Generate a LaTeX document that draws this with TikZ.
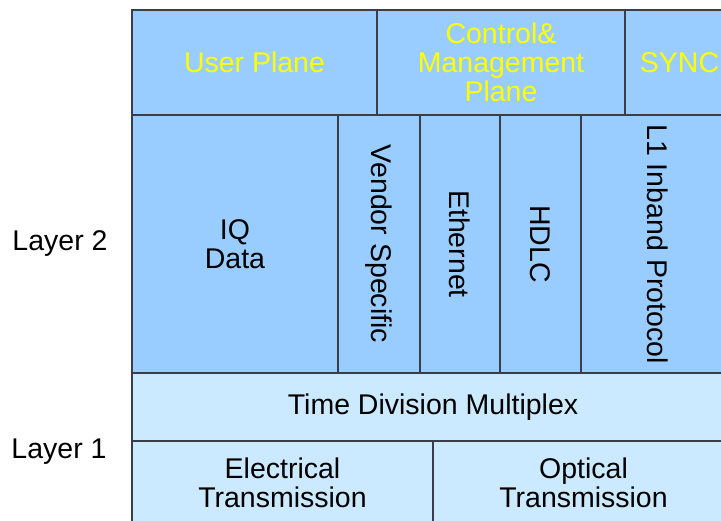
\documentclass[tikz,border=0pt]{standalone}
\usepackage{fontspec}
\setmainfont{Liberation Sans}
\definecolor{linec}{RGB}{58,62,74}
\definecolor{blueA}{RGB}{153,204,255}
\definecolor{blueB}{RGB}{204,234,255}
\definecolor{yellowT}{RGB}{255,255,0}
\begin{document}
\begin{tikzpicture}[x=1pt,y=-1pt,
  cell/.style={draw=linec, line width=1.2pt, inner sep=0pt, align=center,
    font=\fontsize{28.5}{29}\selectfont},
  upper/.style={cell, fill=blueA, text=yellowT},
  mid/.style={cell, fill=blueA, text=black},
  low/.style={cell, fill=blueB, text=black},
  lab/.style={inner sep=0pt, font=\fontsize{28.5}{29}\selectfont}]
\useasboundingbox (0,0) rectangle (721,521);
\clip (0,0) rectangle (721,521);
% top row
\node[upper, minimum width=245pt, minimum height=105pt] (up) at (254.5,62.5) {User Plane};
\node[upper, minimum width=248pt, minimum height=105pt] (cm) at (501,62.5) {Control\&\\Management\\Plane};
\node[upper, minimum width=109pt, minimum height=105pt] (sync) at (679.5,62.5) {SYNC};
% layer 2
\node[mid, minimum width=206pt, minimum height=258pt] (iq) at (235,244) {IQ\\Data};
\node[mid, rotate=-90, minimum width=258pt, minimum height=82pt] (vs) at (379,244) {Vendor Specific};
\node[mid, rotate=-90, minimum width=258pt, minimum height=80pt] (eth) at (460,244) {Ethernet};
\node[mid, rotate=-90, minimum width=258pt, minimum height=81pt] (hdlc) at (540.5,244) {HDLC};
\node[mid, rotate=-90, minimum width=258pt, minimum height=153pt] (l1) at (657.5,244) {L1 Inband Protocol};
% layer 1
\node[low, minimum width=602pt, minimum height=68pt] (tdm) at (433,407) {Time Division Multiplex};
\node[low, minimum width=301pt, minimum height=84pt] (ele) at (282.5,483) {Electrical\\Transmission};
\node[low, minimum width=301pt, minimum height=84pt] (opt) at (583.5,483) {Optical\\Transmission};
% labels
\node[lab] (lay2) at (60,244) {Layer 2};
\node[lab] (lay1) at (59,452) {Layer 1};
\end{tikzpicture}
\end{document}
